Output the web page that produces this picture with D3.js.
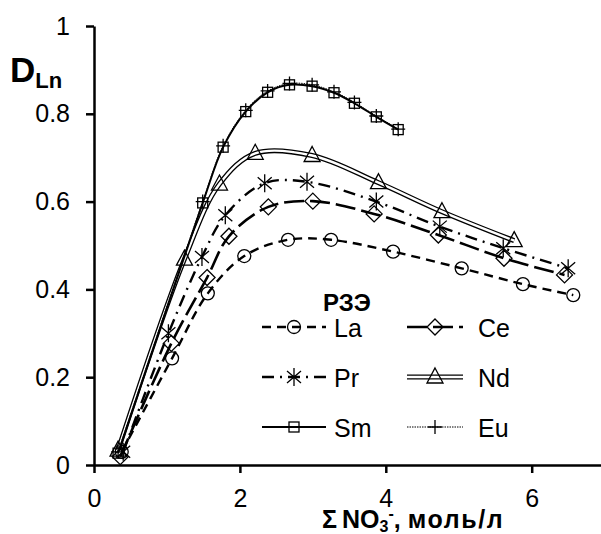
<!DOCTYPE html>
<html>
<head>
<meta charset="utf-8">
<script src="https://cdn.jsdelivr.net/npm/d3@7"></script>
<style>
  body { margin: 0; background: #fff; }
  svg { font-family: Arial, "Liberation Sans", sans-serif; }
</style>
</head>
<body>
<svg id="chart" width="601" height="534"></svg>
<script>
// data
const laX = [0.38, 1.07, 1.56, 2.06, 2.66, 3.25, 4.10, 5.04, 5.88, 6.57];
const laY = [0.030, 0.243, 0.391, 0.476, 0.513, 0.513, 0.486, 0.448, 0.412, 0.387];
const ceX = [0.36, 1.06, 1.55, 1.85, 2.39, 3.00, 3.84, 4.72, 5.62, 6.45];
const ceY = [0.019, 0.277, 0.427, 0.521, 0.588, 0.601, 0.572, 0.524, 0.471, 0.433];
const prX = [0.40, 1.02, 1.48, 1.80, 2.34, 2.92, 3.87, 4.74, 5.61, 6.50];
const prY = [0.030, 0.300, 0.474, 0.569, 0.642, 0.645, 0.600, 0.543, 0.494, 0.448];
const ndX = [0.33, 1.24, 1.72, 2.21, 2.99, 3.90, 4.77, 5.76];
const ndY = [0.034, 0.469, 0.640, 0.710, 0.705, 0.643, 0.577, 0.511];
const smX = [0.33, 1.49, 1.77, 2.08, 2.38, 2.68, 2.99, 3.29, 3.57, 3.87, 4.17];
const smY = [0.027, 0.597, 0.724, 0.805, 0.849, 0.866, 0.863, 0.848, 0.824, 0.793, 0.764];
const euX = [0.33, 1.49, 1.77, 2.08, 2.38, 2.68, 2.99, 3.29, 3.57, 3.87, 4.17];
const euY = [0.030, 0.600, 0.727, 0.808, 0.852, 0.869, 0.866, 0.850, 0.826, 0.795, 0.765];

const xTicks = [0, 2, 4, 6];
const yTicks = [0, 0.2, 0.4, 0.6, 0.8, 1];
const yTickLabels = ['0', '0.2', '0.4', '0.6', '0.8', '1'];

const series = [
  { name: 'La', xs: laX, ys: laY, dash: '9,6', width: 2.4, marker: 'circle' },
  { name: 'Ce', xs: ceX, ys: ceY, dash: '20,6', width: 2.6, marker: 'diamond' },
  { name: 'Pr', xs: prX, ys: prY, dash: '12,6,2,6', width: 2.4, marker: 'star' },
  { name: 'Nd', xs: ndX, ys: ndY, dash: null, width: 5, marker: 'triangle', double: true },
  { name: 'Sm', xs: smX, ys: smY, dash: null, width: 2, marker: 'square' },
  { name: 'Eu', xs: euX, ys: euY, dash: '1.5,1', width: 1, marker: 'plus' },
];

const svg = d3.select('#chart');
const x = d3.scaleLinear().domain([0, 6.95]).range([94, 601]);
const y = d3.scaleLinear().domain([0, 1]).range([465, 26]);

function drawMarker(g, type, cx, cy) {
  let el;
  if (type === 'circle') {
    el = g.append('circle').attr('cx', cx).attr('cy', cy).attr('r', 6.5);
  } else if (type === 'diamond') {
    el = g.append('path').attr('d', `M${cx},${cy - 8}L${cx + 8},${cy}L${cx},${cy + 8}L${cx - 8},${cy}Z`);
  } else if (type === 'triangle') {
    el = g.append('path').attr('d', `M${cx},${cy - 9}L${cx + 8},${cy + 6}L${cx - 8},${cy + 6}Z`);
  } else if (type === 'square') {
    el = g.append('rect').attr('x', cx - 5).attr('y', cy - 5).attr('width', 10).attr('height', 10);
  } else if (type === 'star') {
    el = g.append('path').attr('d',
      `M${cx},${cy - 9}V${cy + 9}M${cx - 7},${cy - 6}L${cx + 7},${cy + 6}M${cx - 7},${cy + 6}L${cx + 7},${cy - 6}`);
  } else if (type === 'plus') {
    el = g.append('path').attr('d', `M${cx},${cy - 7}V${cy + 7}M${cx - 7},${cy}H${cx + 7}`);
  }
  el.attr('fill', 'none').attr('stroke', '#000').attr('stroke-width', 1.3);
}

const line = d3.line()
  .x(d => x(d[0]))
  .y(d => y(d[1]))
  .curve(d3.curveCatmullRom.alpha(0.5));

function strokeLine(g, s, path) {
  if (s.double) {
    g.append('path').attr('d', path).attr('fill', 'none').attr('stroke', '#000').attr('stroke-width', 5);
    g.append('path').attr('d', path).attr('fill', 'none').attr('stroke', '#fff').attr('stroke-width', 2.4);
  } else {
    g.append('path').attr('d', path).attr('fill', 'none').attr('stroke', '#000')
      .attr('stroke-width', s.width).attr('stroke-dasharray', s.dash);
  }
}

// series
const plot = svg.append('g');
series.forEach(s => {
  const pts = s.xs.map((v, i) => [v, s.ys[i]]);
  const g = plot.append('g');
  strokeLine(g, s, line(pts));
  pts.forEach(p => drawMarker(g, s.marker, x(p[0]), y(p[1])));
});

// axes
const xAxis = svg.append('g').attr('transform', `translate(0,${y(0)})`)
  .call(d3.axisBottom(x).tickValues(xTicks).tickSize(8).tickSizeOuter(0).tickPadding(16).tickFormat(d3.format('d')));
const yAxis = svg.append('g').attr('transform', `translate(${x(0)},0)`)
  .call(d3.axisLeft(y).tickValues(yTicks).tickSize(8).tickSizeOuter(0).tickPadding(16)
    .tickFormat((d, i) => yTickLabels[i]));
[xAxis, yAxis].forEach(a => {
  a.select('.domain').attr('stroke', '#000').attr('stroke-width', 2.5);
  a.selectAll('.tick line').attr('stroke', '#000').attr('stroke-width', 2.5);
  a.selectAll('.tick text').attr('font-size', 25).attr('fill', '#000')
    .attr('font-family', 'Arial, "Liberation Sans", sans-serif');
});

// axis titles
const yt = svg.append('text').attr('x', 10).attr('y', 82).attr('font-weight', 'bold').attr('font-size', 35);
yt.append('tspan').text('D');
yt.append('tspan').attr('font-size', 22).attr('dy', 6).text('Ln');

const xt = svg.append('text').attr('x', 322).attr('y', 528).attr('font-weight', 'bold').attr('font-size', 25);
xt.append('tspan').text('Σ');
xt.append('tspan').attr('dx', 5).text('NO');
xt.append('tspan').attr('font-size', 16).attr('dy', 4).text('3');
xt.append('tspan').attr('font-size', 16).attr('dy', -13).text('-');
xt.append('tspan').attr('dy', 9).text(',');
xt.append('tspan').attr('dx', 7).attr('letter-spacing', 1.6).text('моль/л');

// legend
svg.append('text').attr('x', 323).attr('y', 311).attr('font-weight', 'bold').attr('font-size', 24).text('РЗЭ');

const legendRows = [327, 377, 427];
const legendCols = [{ x0: 262, x1: 326, tx: 334 }, { x0: 407, x1: 463, tx: 478 }];
series.forEach((s, i) => {
  const col = legendCols[i % 2];
  const ly = legendRows[Math.floor(i / 2)];
  const g = svg.append('g');
  strokeLine(g, s, `M${col.x0},${ly}H${col.x1}`);
  drawMarker(g, s.marker, (col.x0 + col.x1) / 2, ly);
  g.append('text').attr('x', col.tx).attr('y', ly + 10).attr('font-size', 25).text(s.name);
});
</script>
</body>
</html>
